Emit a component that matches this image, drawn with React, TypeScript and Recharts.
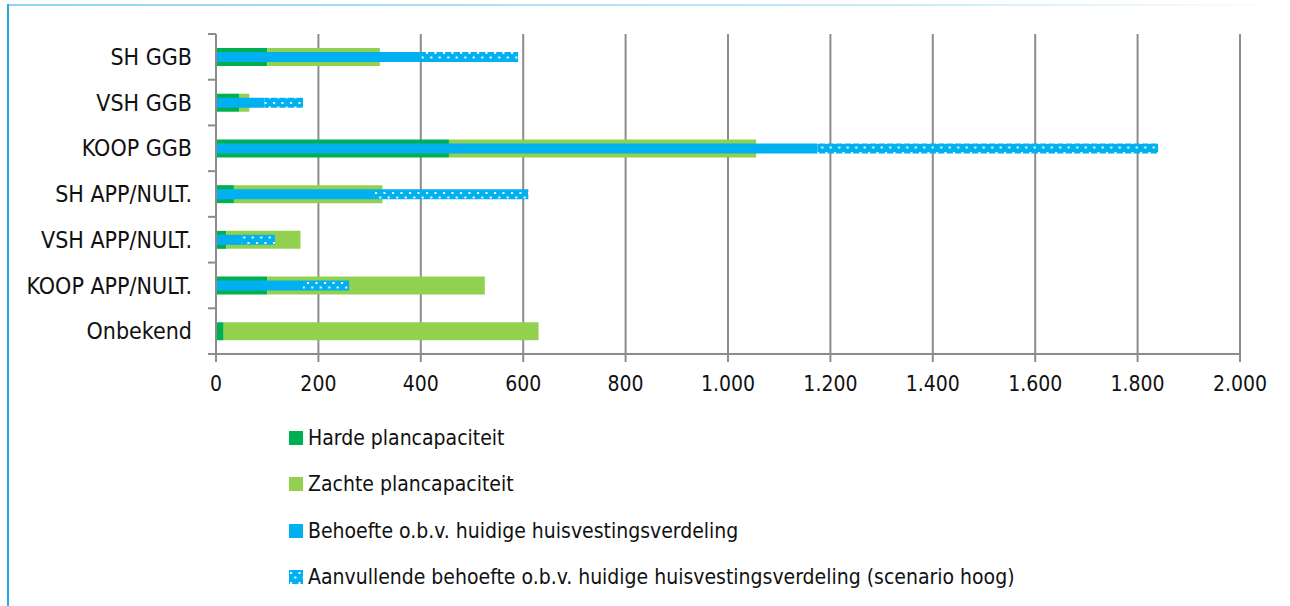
import React from 'react';
import { BarChart, Bar, XAxis, YAxis, CartesianGrid, Legend } from 'recharts';

const categories = ['SH GGB', 'VSH GGB', 'KOOP GGB', 'SH APP/NULT.', 'VSH APP/NULT.', 'KOOP APP/NULT.', 'Onbekend'];
const harde = [100, 45, 455, 35, 20, 100, 15];
const zachte = [220, 20, 600, 290, 145, 425, 615];
const behoefte = [400, 95, 1175, 310, 50, 170, 0];
const aanvullende = [190, 75, 665, 300, 65, 90, 0];
const xTicks = [0, 200, 400, 600, 800, 1000, 1200, 1400, 1600, 1800, 2000];

const seriesNames = [
  'Harde plancapaciteit',
  'Zachte plancapaciteit',
  'Behoefte o.b.v. huidige huisvestingsverdeling',
  'Aanvullende behoefte o.b.v. huidige huisvestingsverdeling (scenario hoog)',
];

const data = categories.map((name, i) => ({
  name,
  harde: harde[i],
  zachte: zachte[i],
  behoefte: behoefte[i],
  aanvullende: aanvullende[i],
}));

const FONT = "'Liberation Sans Narrow', 'DejaVu Sans Condensed', 'Arial Narrow', sans-serif";
const GRID = '#8c8c8c';
const DARK_GREEN = '#00b050';
const LIGHT_GREEN = '#92d050';
const BLUE = '#00b0f0';
const TICK = 8;
const TICK_GAP = 16;

const fmt = (v: number) => v.toLocaleString('de-DE');

const legendFills = [DARK_GREEN, LIGHT_GREEN, BLUE, 'url(#dots)'];

const LegendBox = () => (
  <div style={{ fontFamily: FONT, fontSize: 21, color: '#111' }}>
    {seriesNames.map((s, i) => (
      <div key={s} style={{ display: 'flex', alignItems: 'center', height: 46.3 }}>
        <svg width={14} height={14} style={{ marginRight: 5 }}>
          <rect width={14} height={14} fill={legendFills[i]} />
        </svg>
        <span>{s}</span>
      </div>
    ))}
  </div>
);

// category label plus Excel-style tick marks on the category boundaries
const CategoryTick = (props: any) => {
  const { x, y, payload, index, visibleTicksCount } = props;
  const half = payload && payload.offset ? payload.offset : 0;
  const ax = x + TICK + TICK_GAP;
  const last = index === (visibleTicksCount ?? categories.length) - 1;
  return (
    <g>
      <line x1={ax - TICK} x2={ax} y1={y - half} y2={y - half} stroke={GRID} strokeWidth={2} />
      {last && <line x1={ax - TICK} x2={ax} y1={y + half} y2={y + half} stroke={GRID} strokeWidth={2} />}
      <text x={x} y={y} dy="0.355em" textAnchor="end" fill="#111" fontSize={23} fontFamily={FONT}>
        {payload.value}
      </text>
    </g>
  );
};

export default function App() {
  return (
    <div style={{ position: 'absolute', left: 0, top: 0, width: 1290, height: 606, background: '#fff' }}>
      <div
        style={{
          position: 'absolute', left: 7, top: 4, width: 1283, height: 2,
          background: 'linear-gradient(to right, #8fd3f2, #c9ebf9 70%, rgba(255,255,255,0))',
        }}
      />
      <div style={{ position: 'absolute', left: 7, top: 4, width: 2, height: 602, background: '#29abe2' }} />
      <BarChart
        layout="vertical"
        width={1290}
        height={606}
        data={data}
        margin={{ top: 34, right: 50, bottom: 212, left: 0 }}
      >
        <defs>
          <pattern id="dots" patternUnits="userSpaceOnUse" width={8.5} height={10}>
            <rect width={8.5} height={10} fill={BLUE} />
            <rect x={1} y={2} width={2} height={2} fill="#fff" />
            <rect x={5.25} y={6.5} width={2} height={2} fill="#fff" />
          </pattern>
        </defs>
        <CartesianGrid horizontal={false} stroke={GRID} strokeWidth={2} />
        <XAxis
          type="number"
          domain={[0, 2000]}
          ticks={xTicks}
          tickFormatter={fmt}
          height={40}
          tickSize={8}
          tickMargin={14}
          stroke={GRID}
          strokeWidth={2}
          tick={{ fill: '#111', fontSize: 21, fontFamily: FONT }}
        />
        <YAxis
          yAxisId="cap"
          type="category"
          dataKey="name"
          width={216}
          axisLine={{ stroke: GRID, strokeWidth: 2 }}
          tickLine={false}
          tickSize={TICK}
          tickMargin={TICK_GAP}
          interval={0}
          tick={<CategoryTick />}
        />
        <YAxis yAxisId="need" type="category" dataKey="name" hide />
        <Bar yAxisId="cap" dataKey="harde" name={seriesNames[0]} stackId="cap" fill={DARK_GREEN} barSize={18} isAnimationActive={false} />
        <Bar yAxisId="cap" dataKey="zachte" name={seriesNames[1]} stackId="cap" fill={LIGHT_GREEN} barSize={18} isAnimationActive={false} />
        <Bar yAxisId="need" dataKey="behoefte" name={seriesNames[2]} stackId="need" fill={BLUE} barSize={10} isAnimationActive={false} />
        <Bar yAxisId="need" dataKey="aanvullende" name={seriesNames[3]} stackId="need" fill="url(#dots)" barSize={10} isAnimationActive={false} />
        <Legend
          layout="horizontal"
          verticalAlign="middle"
          align="center"
          content={() => <LegendBox />}
          wrapperStyle={{ top: 415, left: 289, width: 'auto', height: 'auto' }}
        />
      </BarChart>
    </div>
  );
}
